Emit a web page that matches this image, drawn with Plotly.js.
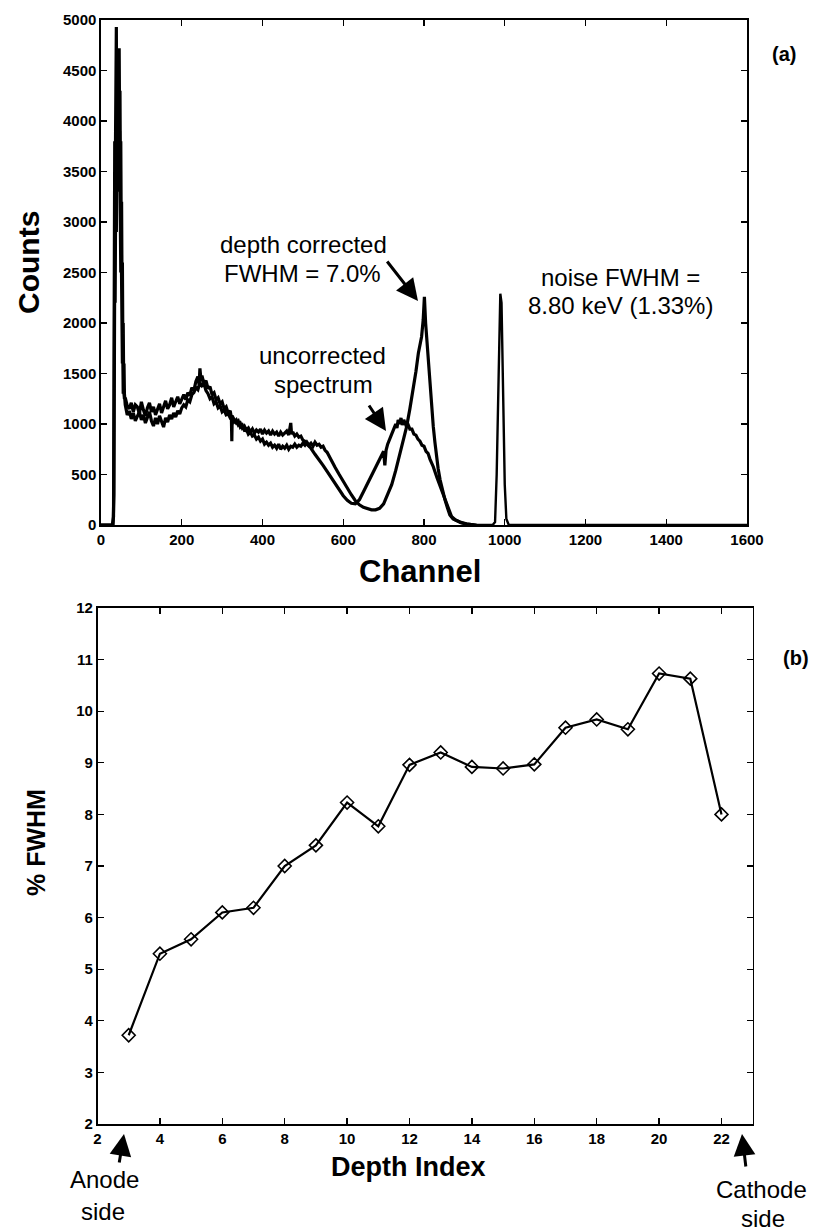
<!DOCTYPE html>
<html>
<head>
<meta charset="utf-8">
<script src="https://cdn.plot.ly/plotly-3.0.1.min.js"></script>
<style>html,body{margin:0;padding:0;background:#fff;}#chart{width:814px;height:1231px;}</style>
</head>
<body>
<div id="chart"></div>
<script>
// ---- Panel (a): spectra ----
const corrCh = [0,28,31,32,33,34,35,36,37,38,39,40,41,42,43,44,45,46,47,48,49,50,51,52,53,54,55,56,58,
  60,65,70,75,80,85,90,95,100,105,110,115,120,125,130,135,140,145,150,155,160,165,170,175,180,185,190,195,200,
  205,210,215,220,225,230,235,240,243,245,248,250,255,260,265,270,275,280,285,290,295,300,305,310,315,320,323,324,325,
  330,335,340,345,350,355,360,365,370,375,380,385,390,395,400,405,410,415,420,425,430,435,440,445,450,455,460,465,470,475,480,485,490,495,500,
  505,510,515,520,525,530,535,540,545,550,555,560,570,580,590,600,610,620,630,640,650,660,670,680,690,700,710,720,730,740,750,757,765,773,780,786,790,794,798,801,804,807,811,815,819,823,827,831,835,840,846,852,858,864,872,881,893,906,930];
const corrCounts = [0,0,80,3100,2000,3800,3300,4500,3900,4930,3800,4600,3900,4400,3600,4200,3300,3900,3000,3400,2500,2800,2000,2200,1600,1700,1300,1350,1250,
  1260,1180,1150,1210,1120,1190,1170,1100,1220,1140,1080,1160,1210,1120,1170,1090,1150,1200,1110,1180,1230,1150,1190,1260,1170,1220,1270,1200,1250,
  1290,1240,1310,1280,1360,1330,1420,1470,1390,1550,1420,1480,1400,1430,1350,1370,1290,1310,1240,1260,1200,1220,1150,1170,1110,1130,1060,830,1080,
  1040,1010,1030,970,990,940,950,900,920,880,890,850,870,830,850,800,820,790,810,770,790,760,800,750,780,760,790,750,780,770,800,770,790,780,810,
  790,820,790,810,780,820,790,800,770,780,740,720,640,570,500,430,370,300,240,200,175,160,150,150,165,210,300,400,540,700,860,974,1150,1337,1520,1700,1790,1864,2030,2260,2000,1832,1600,1370,1170,974,820,676,560,445,340,248,170,99,60,43,20,10,0];

const uncCh = [0,30,32,33,34,35,36,37,38,39,40,41,42,43,44,45,46,47,48,49,50,51,52,53,54,55,56,57,58,
  60,65,70,75,80,85,90,95,100,105,110,115,120,125,130,135,140,145,150,155,160,165,170,175,180,185,190,195,200,
  205,210,215,220,225,230,235,240,245,250,255,260,265,270,275,280,285,290,295,300,305,310,315,320,325,330,335,340,345,350,355,360,365,370,375,380,385,390,395,400,
  405,410,415,420,425,430,435,440,445,450,455,460,465,470,472,475,480,485,490,495,500,505,510,515,520,
  530,540,550,560,570,580,590,600,610,620,630,640,650,660,670,680,690,700,703,706,710,715,720,725,730,733,736,740,743,746,750,755,760,765,770,775,780,785,790,795,800,805,810,815,823,832,840,848,856,862,868,878,889,905,925];
const uncCounts = [0,0,300,1900,2600,2200,3000,3400,2900,3600,3300,4000,3700,4600,4100,4720,4000,4300,3500,3800,3000,3200,2400,2600,1900,2000,1500,1600,1300,
  1190,1090,1130,1050,1110,1030,1080,1120,1040,1090,1010,1070,1120,1030,980,1060,1000,1080,1030,970,1060,1020,1090,1050,1110,1070,1130,1100,1160,
  1190,1170,1240,1220,1290,1310,1360,1340,1410,1380,1400,1330,1300,1250,1270,1200,1220,1160,1180,1120,1140,1090,1100,1060,1070,1020,1040,990,1010,960,980,940,960,920,950,910,940,920,950,900,
  940,910,930,890,930,900,920,880,920,890,910,930,890,1010,900,920,880,900,870,880,840,830,800,780,760,
  700,650,590,530,470,410,350,290,245,215,210,250,330,410,500,580,650,730,590,740,800,860,900,950,1000,960,1040,1000,1060,990,1040,990,1000,950,950,900,890,850,830,790,780,730,710,650,577,470,380,290,215,140,85,50,30,12,0];

const noiseCh = [925,970,976,980,985,989,992,996,1000,1004,1010,1600];
const noiseCounts = [0,0,30,500,1500,2290,2200,1200,400,60,0,0];

// ---- Panel (b): %FWHM vs depth ----
const depthIndex = [3,4,5,6,7,8,9,10,11,12,13,14,15,16,17,18,19,20,21,22];
const fwhmPct = [3.72,5.30,5.58,6.10,6.19,7.00,7.40,8.23,7.77,8.96,9.20,8.92,8.89,8.97,9.68,9.84,9.65,10.73,10.63,8.00];

const chTicks = [0,200,400,600,800,1000,1200,1400,1600];
const cntTicks = [0,500,1000,1500,2000,2500,3000,3500,4000,4500,5000];
const depthTicks = [2,4,6,8,10,12,14,16,18,20,22];
const pctTicks = [2,3,4,5,6,7,8,9,10,11,12];

const W = 814, H = 1231;
const px = x => x / W;
const py = y => 1 - y / H;

const lineStyle = {color: '#000', width: 3.2};
const traces = [
  {x: noiseCh, y: noiseCounts, type: 'scatter', mode: 'lines', line: {color: '#000', width: 2.4}, xaxis: 'x', yaxis: 'y', hoverinfo: 'skip'},
  {x: uncCh, y: uncCounts, type: 'scatter', mode: 'lines', line: lineStyle, xaxis: 'x', yaxis: 'y', hoverinfo: 'skip'},
  {x: corrCh, y: corrCounts, type: 'scatter', mode: 'lines', line: lineStyle, xaxis: 'x', yaxis: 'y', hoverinfo: 'skip'},
  {x: depthIndex, y: fwhmPct, type: 'scatter', mode: 'lines+markers', line: {color: '#000', width: 2.2},
   marker: {symbol: 'diamond-open', size: 10, color: '#000', line: {width: 1.6, color: '#000'}}, xaxis: 'x2', yaxis: 'y2', hoverinfo: 'skip'}
];

const tickFontA = {family: 'Liberation Sans Narrow, Arial Narrow, Liberation Sans, Arial, sans-serif', size: 15, color: '#000', weight: 'bold'};
const tickFontB = {family: 'Liberation Sans, Arial, sans-serif', size: 15, color: '#000', weight: 'bold'};
const axBase = {showgrid: false, zeroline: false, showline: true, linecolor: '#000', linewidth: 1.6, mirror: 'ticks',
  ticks: 'inside', ticklen: 6, tickwidth: 1.3, tickcolor: '#000', fixedrange: true};

const txt = (text, x, y, size, opts) => Object.assign({
  text: text, xref: 'paper', yref: 'paper', x: px(x), y: py(y), xanchor: 'center', yanchor: 'middle', showarrow: false,
  font: {family: 'Liberation Sans, Arial, sans-serif', size: size, color: '#000'}
}, opts || {});
const arrow = (hx, hy, tx, ty) => ({
  text: '', xref: 'paper', yref: 'paper', x: px(hx), y: py(hy), ax: tx - hx, ay: ty - hy,
  showarrow: true, arrowhead: 2, arrowsize: 1.45, arrowwidth: 3, arrowcolor: '#000'
});
const bold = (size) => ({font: {family: 'Liberation Sans, Arial, sans-serif', size: size, color: '#000', weight: 'bold'}});

const annotations = [
  txt('Counts', 28, 263, 30, Object.assign({textangle: -90}, bold(30))),
  txt('Channel', 420, 571, 31, bold(31)),
  txt('(a)', 784, 54, 20, bold(20)),
  txt('(b)', 796, 658, 20, bold(20)),
  txt('% FWHM', 36, 843, 25, Object.assign({textangle: -90}, bold(25))),
  txt('Depth Index', 408, 1167, 27, bold(27)),
  txt('depth corrected', 303, 244, 24),
  txt('FWHM = 7.0%', 302, 273, 24),
  txt('uncorrected', 322, 356, 24),
  txt('spectrum', 323, 384, 24),
  txt('noise FWHM =', 620, 278, 24),
  txt('8.80 keV (1.33%)', 620, 306, 24),
  txt('Anode', 104, 1179, 24),
  txt('side', 103, 1211, 24),
  txt('Cathode', 761, 1189, 24),
  txt('side', 763, 1218, 24),
  arrow(418, 301, 386, 260),
  arrow(386, 431, 368, 404),
  arrow(124, 1134, 119, 1164),
  arrow(742, 1134, 746, 1168)
];

const layout = {
  width: W, height: H, margin: {l: 0, r: 0, t: 0, b: 0},
  paper_bgcolor: '#fff', plot_bgcolor: '#fff', showlegend: false,
  xaxis: Object.assign({}, axBase, {domain: [px(101), px(747)], range: [0, 1600], tickvals: chTicks, tickfont: tickFontA, anchor: 'y'}),
  yaxis: Object.assign({}, axBase, {domain: [py(525), py(20)], range: [0, 5000], tickvals: cntTicks, tickfont: tickFontA, anchor: 'x'}),
  xaxis2: Object.assign({}, axBase, {domain: [px(97.5), px(752.7)], range: [2, 23], tickvals: depthTicks, tickfont: tickFontB, anchor: 'y2'}),
  yaxis2: Object.assign({}, axBase, {domain: [py(1124), py(608)], range: [2, 12], tickvals: pctTicks, tickfont: tickFontB, anchor: 'x2'}),
  annotations: annotations
};

Plotly.newPlot('chart', traces, layout, {staticPlot: true, displayModeBar: false});
</script>
</body>
</html>
